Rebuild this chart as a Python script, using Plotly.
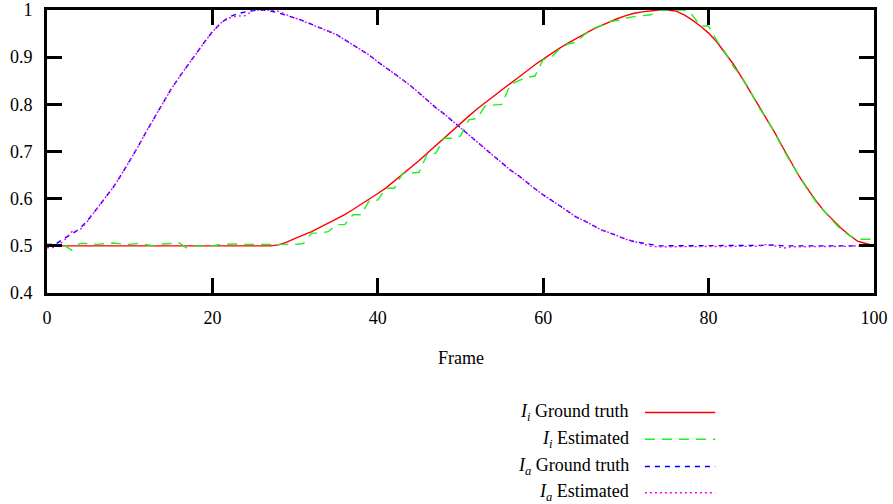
import plotly.graph_objects as go

frames = list(range(101))

ii_ground_truth = [
    0.5, 0.5, 0.5, 0.5, 0.5, 0.5, 0.5, 0.5, 0.5, 0.5,
    0.5, 0.5, 0.5, 0.5, 0.5, 0.5, 0.5, 0.5, 0.5, 0.5,
    0.5, 0.5, 0.5, 0.5, 0.5, 0.5, 0.5, 0.5, 0.502, 0.508,
    0.516, 0.523, 0.530, 0.539, 0.548, 0.557, 0.566, 0.577, 0.588, 0.599,
    0.611, 0.623, 0.637, 0.651, 0.666, 0.681, 0.697, 0.713, 0.729, 0.745,
    0.760, 0.775, 0.790, 0.804, 0.818, 0.831, 0.844, 0.857, 0.871, 0.884,
    0.896, 0.908, 0.919, 0.930, 0.940, 0.950, 0.959, 0.967, 0.975, 0.982,
    0.988, 0.993, 0.996, 0.998, 1.0, 1.0, 0.998, 0.990, 0.979, 0.966,
    0.951, 0.932, 0.909, 0.885, 0.857, 0.828, 0.800, 0.770, 0.740, 0.708,
    0.677, 0.646, 0.620, 0.595, 0.573, 0.555, 0.538, 0.523, 0.510, 0.505,
    0.500,
]

ii_estimated = [
    0.5, 0.5, 0.502, 0.491, 0.505, 0.505, 0.503, 0.505, 0.506, 0.504,
    0.503, 0.505, 0.503, 0.500, 0.504, 0.505, 0.506, 0.494, 0.500, 0.500,
    0.500, 0.503, 0.504, 0.504, 0.503, 0.503, 0.503, 0.503, 0.503, 0.503,
    0.503, 0.505, 0.527, 0.527, 0.530, 0.545, 0.545, 0.566, 0.566, 0.597,
    0.597, 0.622, 0.622, 0.654, 0.654, 0.656, 0.696, 0.696, 0.728, 0.728,
    0.733, 0.767, 0.770, 0.797, 0.799, 0.800, 0.841, 0.850, 0.857, 0.860,
    0.895, 0.900, 0.918, 0.928, 0.932, 0.948, 0.960, 0.968, 0.975, 0.978,
    0.983, 0.986, 0.988, 0.990, 1.0, 1.0, 1.0, 1.0, 0.990, 0.966,
    0.966, 0.935, 0.910, 0.880, 0.858, 0.830, 0.795, 0.770, 0.740, 0.705,
    0.675, 0.645, 0.618, 0.593, 0.572, 0.553, 0.535, 0.522, 0.514, 0.514,
    0.514,
]

ia_ground_truth = [
    0.503, 0.503, 0.515, 0.525, 0.537, 0.556, 0.578, 0.600, 0.624, 0.651,
    0.680, 0.710, 0.742, 0.773, 0.803, 0.832, 0.858, 0.883, 0.907, 0.931,
    0.954, 0.972, 0.985, 0.992, 0.996, 0.999, 1.0, 0.998, 0.994, 0.989,
    0.983, 0.977, 0.970, 0.962, 0.956, 0.948, 0.937, 0.926, 0.916, 0.904,
    0.890, 0.878, 0.865, 0.852, 0.839, 0.824, 0.808, 0.793, 0.780, 0.765,
    0.750, 0.734, 0.719, 0.706, 0.691, 0.676, 0.661, 0.649, 0.634, 0.621,
    0.608, 0.597, 0.585, 0.573, 0.561, 0.553, 0.544, 0.534, 0.528, 0.521,
    0.514, 0.509, 0.506, 0.502, 0.500, 0.500, 0.500, 0.500, 0.500, 0.500,
    0.500, 0.500, 0.500, 0.500, 0.500, 0.500, 0.500, 0.501, 0.502, 0.500,
    0.500, 0.500, 0.500, 0.500, 0.500, 0.500, 0.500, 0.500, 0.500, 0.500,
    0.500,
]

ia_estimated = [
    0.496, 0.497, 0.510, 0.530, 0.534, 0.554, 0.578, 0.600, 0.624, 0.651,
    0.680, 0.710, 0.742, 0.773, 0.803, 0.832, 0.858, 0.883, 0.907, 0.931,
    0.954, 0.972, 0.983, 0.987, 0.988, 1.0, 1.0, 1.0, 0.997, 0.990,
    0.983, 0.977, 0.970, 0.962, 0.956, 0.948, 0.937, 0.926, 0.916, 0.904,
    0.890, 0.878, 0.865, 0.852, 0.839, 0.824, 0.808, 0.793, 0.780, 0.765,
    0.750, 0.734, 0.719, 0.706, 0.691, 0.676, 0.661, 0.649, 0.634, 0.621,
    0.608, 0.597, 0.585, 0.573, 0.561, 0.553, 0.544, 0.534, 0.528, 0.521,
    0.514, 0.509, 0.504, 0.499, 0.498, 0.498, 0.498, 0.498, 0.498, 0.498,
    0.498, 0.498, 0.498, 0.498, 0.498, 0.498, 0.499, 0.503, 0.500, 0.495,
    0.498, 0.498, 0.498, 0.498, 0.499, 0.499, 0.499, 0.499, 0.500, 0.500,
    0.500,
]

x_ticks = [0, 20, 40, 60, 80, 100]
y_ticks = [0.4, 0.5, 0.6, 0.7, 0.8, 0.9, 1.0]
y_tick_labels = ["0.4", "0.5", "0.6", "0.7", "0.8", "0.9", "1"]

series_names = [
    "<i>I</i><sub><i>i</i></sub> Ground truth",
    "<i>I</i><sub><i>i</i></sub> Estimated",
    "<i>I</i><sub><i>a</i></sub> Ground truth",
    "<i>I</i><sub><i>a</i></sub> Estimated",
]
series_values = [ii_ground_truth, ii_estimated, ia_ground_truth, ia_estimated]
series_colors = ["#ff0000", "#22ee22", "#0000ff", "#ff00ff"]
series_dashes = ["solid", "10px,7px", "5px,5px", "2px,3px"]

FONT = "Liberation Serif"

fig = go.Figure()
for name, vals, color, dash in zip(series_names, series_values, series_colors, series_dashes):
    fig.add_trace(go.Scatter(
        x=frames, y=vals, mode="lines", name=name,
        line=dict(color=color, width=1.4, dash=dash),
        showlegend=False,
    ))

# legend laid out like the gnuplot key: text right-aligned, sample to the right
legend_rows = [-0.422, -0.517, -0.613, -0.706]
annotations = []
shapes = []
for name, color, dash, yrow in zip(series_names, series_colors, series_dashes, legend_rows):
    annotations.append(dict(
        x=0.706, y=yrow, xref="paper", yref="paper", xanchor="right", yanchor="middle",
        text=name, showarrow=False, font=dict(family=FONT, size=18, color="black"),
    ))
    shapes.append(dict(
        type="line", xref="paper", yref="paper", x0=0.723, x1=0.808, y0=yrow, y1=yrow,
        line=dict(color=color, width=1.4, dash=dash),
    ))

annotations.append(dict(
    x=0.5, y=-0.23, xref="paper", yref="paper", xanchor="center", yanchor="middle",
    text="Frame", showarrow=False, font=dict(family=FONT, size=18, color="black"),
))

fig.update_layout(
    width=893, height=504,
    margin=dict(l=47, r=19, t=10, b=211, autoexpand=False),
    paper_bgcolor="white", plot_bgcolor="white",
    font=dict(family=FONT, size=18, color="black"),
    annotations=annotations,
    shapes=shapes,
)
fig.update_xaxes(
    range=[0, 100], tickvals=x_ticks, ticks="inside", ticklen=15, tickwidth=2.5,
    tickcolor="black", showline=True, linewidth=3, linecolor="black", mirror="ticks",
    showgrid=False, zeroline=False, ticklabelstandoff=6, automargin=False,
    tickfont=dict(family=FONT, size=18, color="black"),
)
fig.update_yaxes(
    range=[0.4, 1.0], tickvals=y_ticks, ticktext=y_tick_labels, ticks="inside", ticklen=15,
    tickwidth=2.5, tickcolor="black", showline=True, linewidth=3, linecolor="black",
    mirror="ticks", showgrid=False, zeroline=False, ticklabelstandoff=8, automargin=False,
    tickfont=dict(family=FONT, size=18, color="black"),
)

fig.write_html("out.html")
